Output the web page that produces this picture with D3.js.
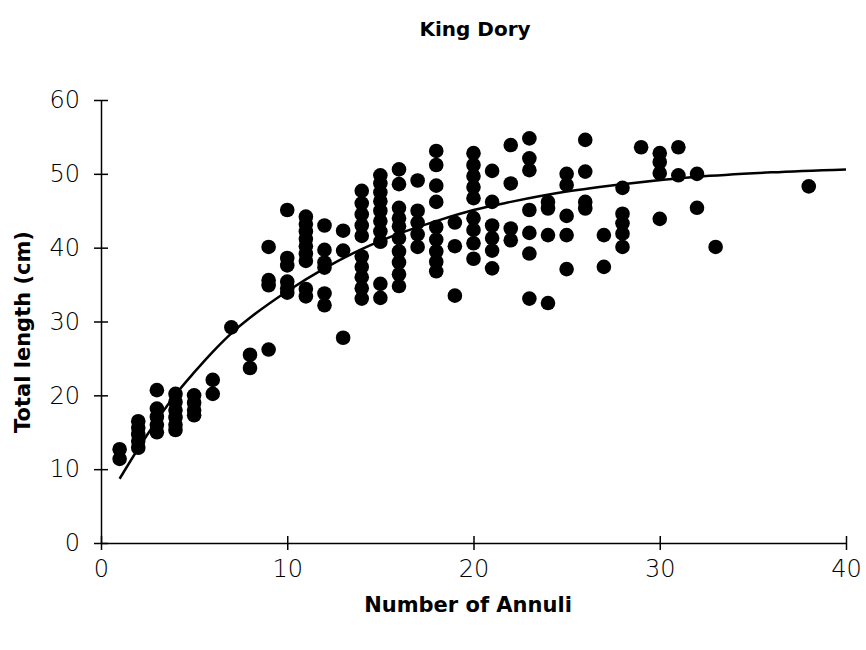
<!DOCTYPE html>
<meta charset="utf-8">
<head>
  <style>
    body { margin: 0; background: #fff; }
    svg text { font-family: "DejaVu Sans", sans-serif; fill: #000; }
  </style>
</head>
<body>
<div id="chart"></div>
<script src="https://d3js.org/d3.v7.min.js"></script>
<script>

// annuli count for each fish
var annuli = [
  1, 1,
  2, 2, 2, 2, 2,
  3, 3, 3, 3, 3,
  4, 4, 4, 4, 4, 4,
  5, 5, 5, 5,
  6, 6,
  7,
  8, 8,
  9, 9, 9, 9,
  10, 10, 10, 10, 10, 10,
  11, 11, 11, 11, 11, 11, 11, 11, 11,
  12, 12, 12, 12, 12, 12,
  13, 13, 13,
  14, 14, 14, 14, 14, 14, 14, 14, 14, 14,
  15, 15, 15, 15, 15, 15, 15, 15, 15, 15,
  16, 16, 16, 16, 16, 16, 16, 16, 16, 16,
  17, 17, 17, 17, 17,
  18, 18, 18, 18, 18, 18, 18, 18, 18,
  19, 19, 19,
  20, 20, 20, 20, 20, 20, 20, 20, 20,
  21, 21, 21, 21, 21, 21,
  22, 22, 22, 22,
  23, 23, 23, 23, 23, 23, 23,
  24, 24, 24, 24,
  25, 25, 25, 25, 25,
  26, 26, 26, 26,
  27, 27,
  28, 28, 28, 28, 28,
  29,
  30, 30, 30, 30,
  31, 31,
  32, 32,
  33,
  38
];

// total length (cm), same order as annuli
var lengths = [
  12.7, 11.4,
  16.5, 15.6, 14.7, 13.8, 12.9,
  20.7, 18.2, 17.1, 16.0, 15.0,
  20.2, 19.1, 18.0, 17.0, 16.0, 15.3,
  20.0, 19.0, 18.0, 17.3,
  22.1, 20.2,
  29.2,
  25.5, 23.7,
  40.1, 35.6, 34.9, 26.2,
  45.1, 38.6, 37.6, 35.4, 34.5, 33.9,
  44.2, 43.2, 42.2, 41.2, 40.2, 39.2, 38.2, 34.4, 33.4,
  43.0, 39.7, 38.0, 37.3, 33.8, 32.2,
  42.3, 39.6, 27.8,
  47.7, 46.0, 44.5, 43.0, 41.6, 38.8, 37.4, 36.0, 34.5, 33.1,
  49.8, 48.7, 47.5, 46.3, 45.0, 43.6, 42.2, 40.8, 35.1, 33.2,
  50.6, 48.6, 45.4, 44.0, 42.9, 41.3, 39.5, 38.0, 36.4, 34.8,
  49.1, 45.0, 43.4, 41.8, 40.1,
  53.1, 51.2, 48.4, 46.2, 42.8, 41.1, 39.5, 38.1, 36.8,
  43.4, 40.2, 33.5,
  52.8, 51.2, 49.7, 48.2, 46.7, 44.0, 42.4, 40.6, 38.5,
  50.4, 46.2, 43.0, 41.3, 39.6, 37.2,
  53.9, 48.7, 42.6, 41.0,
  54.8, 52.1, 50.5, 45.1, 42.0, 39.2, 33.1,
  46.2, 45.3, 41.7, 32.5,
  50.0, 48.5, 44.3, 41.7, 37.1,
  54.6, 50.3, 46.2, 45.3,
  41.7, 37.4,
  48.1, 44.6, 43.3, 41.9, 40.1,
  53.6,
  52.8, 51.6, 50.1, 43.9,
  53.6, 49.8,
  50.0, 45.4,
  40.1,
  48.3
];

// fitted growth curve
var curveAge = [1, 2, 3, 4, 5, 6, 7, 8, 10, 12, 14, 16, 18, 20, 22, 25, 28, 32, 36, 40];
var curveLen = [8.7, 12.8, 16.6, 20.1, 23.1, 25.9, 28.4, 30.5, 34.1, 37.2, 39.8, 41.9, 43.6, 45.1, 46.2, 47.6, 48.6, 49.6, 50.2, 50.6];

var xTicks = [0, 10, 20, 30, 40];
var yTicks = [0, 10, 20, 30, 40, 50, 60];

var margin = {top: 100, right: 20, bottom: 107, left: 101},
    width = 846 - margin.left,
    height = 543 - margin.top;

var svg = d3.select("#chart")
  .append("svg")
    .attr("width", 866)
    .attr("height", 650)
  .append("g")
    .attr("transform", "translate(" + margin.left + "," + margin.top + ")");

var x = d3.scaleLinear().domain([0, 40]).range([0, width]);
var y = d3.scaleLinear().domain([0, 60]).range([height, 0]);

// x axis with ticks crossing the line
var xAxis = svg.append("g")
  .attr("transform", "translate(0," + height + ")")
  .call(d3.axisBottom(x).tickValues(xTicks).tickSize(0).tickPadding(17));
xAxis.select(".domain").attr("stroke-width", 1.5);
xAxis.selectAll(".tick line").attr("y1", -7).attr("y2", 7).attr("stroke-width", 1.5);
xAxis.selectAll("text")
  .style("font-size", "24px").style("font-family", "'DejaVu Sans', sans-serif")
  .style("font-weight", "200");

// y axis
var yAxis = svg.append("g")
  .call(d3.axisLeft(y).tickValues(yTicks).tickSize(0).tickPadding(21));
yAxis.select(".domain").attr("stroke-width", 1.5);
yAxis.selectAll(".tick line").attr("x1", -7).attr("x2", 7).attr("stroke-width", 1.5);
yAxis.selectAll("text")
  .style("font-size", "24px").style("font-family", "'DejaVu Sans', sans-serif")
  .style("font-weight", "200");

// points
svg.selectAll("circle.pt")
  .data(annuli)
  .enter()
  .append("circle")
    .attr("class", "pt")
    .attr("cx", function(d) { return x(d); })
    .attr("cy", function(d, i) { return y(lengths[i]); })
    .attr("r", 7.3)
    .attr("fill", "#000");

// growth curve
var line = d3.line()
  .x(function(d) { return x(d); })
  .y(function(d, i) { return y(curveLen[i]); })
  .curve(d3.curveMonotoneX);

svg.append("path")
  .datum(curveAge)
  .attr("d", line)
  .attr("fill", "none")
  .attr("stroke", "#000")
  .attr("stroke-width", 2.5);

// titles
d3.select("svg").append("text")
  .attr("x", 475).attr("y", 36)
  .attr("text-anchor", "middle")
  .style("font-size", "20px").style("font-weight", "bold")
  .text("King Dory");

d3.select("svg").append("text")
  .attr("x", 468).attr("y", 612)
  .attr("text-anchor", "middle")
  .style("font-size", "21px").style("font-weight", "bold")
  .text("Number of Annuli");

d3.select("svg").append("text")
  .attr("transform", "translate(30,332)rotate(-90)")
  .attr("text-anchor", "middle")
  .style("font-size", "21px").style("font-weight", "bold")
  .text("Total length (cm)");

</script>
</body>
